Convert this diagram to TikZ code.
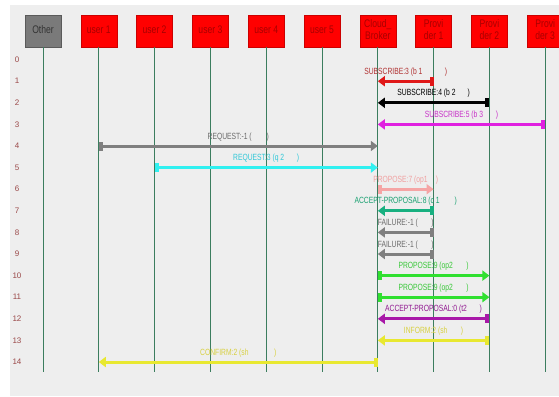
\documentclass[tikz,border=0pt]{standalone}
\usepackage{fontspec}
\setmainfont{Liberation Sans}
\usetikzlibrary{arrows.meta}
\definecolor{bgGray}{HTML}{EEEEEE}
\definecolor{lifeGreen}{HTML}{3B7D5E}
\definecolor{boxRed}{HTML}{FF0000}
\definecolor{boxRedLine}{HTML}{CC0000}
\definecolor{boxText}{HTML}{A80000}
\definecolor{otherGray}{HTML}{7A7A7A}
\definecolor{otherLine}{HTML}{5A5A5A}
\definecolor{rowText}{HTML}{9A4848}
\definecolor{msgRed}{HTML}{E01818}
\definecolor{msgRedText}{HTML}{B03030}
\definecolor{msgMagenta}{HTML}{E020E0}
\definecolor{msgMagentaText}{HTML}{C830C8}
\definecolor{msgGray}{HTML}{7F7F7F}
\definecolor{msgGrayText}{HTML}{6A6A6A}
\definecolor{msgCyan}{HTML}{30F0F0}
\definecolor{msgCyanText}{HTML}{30C8D8}
\definecolor{msgPink}{HTML}{F5A5A5}
\definecolor{msgPinkText}{HTML}{F0A0A0}
\definecolor{msgTeal}{HTML}{18B080}
\definecolor{msgTealText}{HTML}{18A070}
\definecolor{msgGreen}{HTML}{30E030}
\definecolor{msgGreenText}{HTML}{38C838}
\definecolor{msgPurple}{HTML}{A818A8}
\definecolor{msgPurpleText}{HTML}{901890}
\definecolor{msgYellow}{HTML}{E8E830}
\definecolor{msgYellowText}{HTML}{D8D040}
\newcommand{\sqz}[1]{\scalebox{0.75}[1]{#1}}
\newcommand{\hd}[1]{\scalebox{0.78}[1]{\begin{tabular}{@{}c@{}}#1\end{tabular}}}

\begin{document}
\begin{tikzpicture}[x=1pt,y=-1pt,
  agent/.style={draw=boxRedLine, fill=boxRed, text=boxText, minimum width=36pt,
    minimum height=32pt, inner sep=0pt, font=\fontsize{11}{12.5}\selectfont},
  otheragent/.style={agent, draw=otherLine, fill=otherGray, text=black!80},
  lifeline/.style={draw=lifeGreen, line width=0.9pt},
  rownum/.style={text=rowText, inner sep=0pt, font=\fontsize{8}{8}\selectfont},
  msg/.style={line width=3pt, {Rectangle[length=4pt,width=9pt]}-{Triangle[length=7pt,width=10pt]}},
  lbl/.style={midway, anchor=base, yshift=7pt, inner sep=0pt, font=\fontsize{9}{9}\selectfont}]
  \useasboundingbox (0,0) rectangle (559,396);
  \fill[white] (0,0) rectangle (559,396);
  \fill[bgGray] (10,5) rectangle (559,396);
  \node[otheragent] (other) at (43,31) {\hd{Other}};
  \foreach \n/\t [count=\i] in {u1/user 1,u2/user 2,u3/user 3,u4/user 4,u5/user 5,
      cb/{Cloud\_\\Broker},p1/{Provi\\der 1},p2/{Provi\\der 2},p3/{Provi\\der 3}}
    \node[agent] (\n) at (43+55.8*\i,31) {\hd{\t}};
  \foreach \i in {0,...,14}
    \node[rownum] (r\i) at (17,59.6+21.6*\i) {\i};
  \coordinate (bottom) at (0,372);
  \foreach \n in {other,u1,u2,u3,u4,u5,cb,p1,p2,p3}
    \draw[lifeline] (\n.south) -- (\n |- bottom);

  \draw[msg, msgRed] (p1 |- r1) -- node[lbl, text=msgRedText] {\sqz{SUBSCRIBE:3 (b 1\hspace{30pt})}} (cb |- r1);
  \draw[msg, black] (p2 |- r2) -- node[lbl, text=black] {\sqz{SUBSCRIBE:4 (b 2\hspace{16pt})}} (cb |- r2);
  \draw[msg, msgMagenta] (p3 |- r3) -- node[lbl, text=msgMagentaText] {\sqz{SUBSCRIBE:5 (b 3\hspace{17pt})}} (cb |- r3);
  \draw[msg, msgGray] (u1 |- r4) -- node[lbl, text=msgGrayText] {\sqz{REQUEST:-1 (\hspace{20pt})}} (cb |- r4);
  \draw[msg, msgCyan] (u2 |- r5) -- node[lbl, text=msgCyanText] {\sqz{REQUEST:3 (q 2\hspace{17pt})}} (cb |- r5);
  \draw[msg, msgPink] (cb |- r6) -- node[lbl, text=msgPinkText] {\sqz{PROPOSE:7 (op1\hspace{11pt})}} (p1 |- r6);
  \draw[msg, msgTeal] (p1 |- r7) -- node[lbl, text=msgTealText] {\sqz{ACCEPT-PROPOSAL:8 (c 1\hspace{20pt})}} (cb |- r7);
  \draw[msg, msgGray] (p1 |- r8) -- node[lbl, text=msgGrayText] {\sqz{FAILURE:-1 (\hspace{18pt})}} (cb |- r8);
  \draw[msg, msgGray] (p1 |- r9) -- node[lbl, text=msgGrayText] {\sqz{FAILURE:-1 (\hspace{18pt})}} (cb |- r9);
  \draw[msg, msgGreen] (cb |- r10) -- node[lbl, text=msgGreenText] {\sqz{PROPOSE:9 (op2\hspace{18pt})}} (p2 |- r10);
  \draw[msg, msgGreen] (cb |- r11) -- node[lbl, text=msgGreenText] {\sqz{PROPOSE:9 (op2\hspace{18pt})}} (p2 |- r11);
  \draw[msg, msgPurple] (p2 |- r12) -- node[lbl, text=msgPurpleText] {\sqz{ACCEPT-PROPOSAL:0 (t2\hspace{17pt})}} (cb |- r12);
  \draw[msg, msgYellow] (p2 |- r13) -- node[lbl, text=msgYellowText] {\sqz{INFORM:2 (sh\hspace{18pt})}} (cb |- r13);
  \draw[msg, msgYellow] (cb |- r14) -- node[lbl, text=msgYellowText] {\sqz{CONFIRM:2 (sh\hspace{34pt})}} (u1 |- r14);
\end{tikzpicture}
\end{document}
